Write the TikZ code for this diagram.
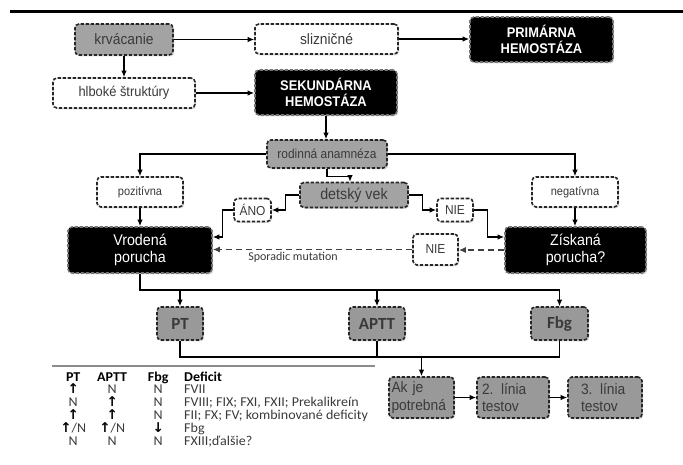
\documentclass[tikz,border=0pt]{standalone}
\usepackage{fontspec}
\setmainfont{Liberation Sans}[FakeStretch=0.92]
\newfontfamily\calfont{Carlito}
\newfontfamily\tabfont{Carlito}[FakeStretch=1.04]
\newfontfamily\arrfont{DejaVu Sans}
\usetikzlibrary{arrows.meta,shadows,calc}
\definecolor{boxgray}{HTML}{A3A3A3}
\definecolor{boxgrayb}{HTML}{999999}
\definecolor{txtgray}{HTML}{3A3A3A}
\newcommand\trow[4]{\hbox{\makebox[30pt]{#1}\makebox[48pt]{#2}\makebox[44pt]{#3}\hspace{4pt}#4}}
\newcommand\up{{\arrfont\bfseries\color{black}↑}}
\newcommand\down{{\arrfont\bfseries\color{black}↓}}
\begin{document}
\begin{tikzpicture}[x=1pt,y=-1pt,
  base/.style={rounded corners=4pt, dash pattern=on 3.4pt off 1.6pt, line width=1.6pt,
    draw=black!85, inner sep=0pt, align=center,
    drop shadow={shadow xshift=1.2pt, shadow yshift=-1.4pt, opacity=0.3}},
  graybox/.style={base, fill=boxgray, text=txtgray},
  grayboxb/.style={base, fill=boxgrayb, text=txtgray},
  whitebox/.style={base, fill=white, text=txtgray},
  blackbox/.style={base, fill=black, draw=black!55, text=white},
  conn/.style={line width=1.2pt, -{Latex[length=6.5pt,width=5.5pt]}},
  plain/.style={line width=1.2pt},
  dconn/.style={line width=1.7pt, draw=black!75, dash pattern=on 6pt off 4pt, -{Latex[length=7pt,width=6pt]}}
]
\useasboundingbox (0,0) rectangle (683,464);
\draw[line width=3pt] (10,11) -- (683,11);

% top part
\node[graybox, minimum width=98pt, minimum height=31pt, font=\fontsize{15}{17}\selectfont] (krv) at (124,39.5) {krvácanie};
\node[whitebox, minimum width=143pt, minimum height=30pt, font=\fontsize{15}{17}\selectfont] (sliz) at (326.5,39) {slizničné};
\node[blackbox, minimum width=143pt, minimum height=45pt, font=\bfseries\fontsize{14}{16}\selectfont] (prim) at (541.5,39.5) {PRIMÁRNA\\HEMOSTÁZA};
\node[whitebox, minimum width=142pt, minimum height=30pt, font=\fontsize{14}{16}\selectfont] (hlb) at (124,93) {hlboké štruktúry};
\node[blackbox, minimum width=142pt, minimum height=45pt, font=\bfseries\fontsize{14}{16}\selectfont] (sek) at (326,92.5) {SEKUNDÁRNA\\HEMOSTÁZA};

\node[graybox, minimum width=120pt, minimum height=28pt, font=\fontsize{13}{15}\selectfont] (rod) at (327,154) {rodinná anamnéza};
\node[graybox, minimum width=108pt, minimum height=25pt, font=\fontsize{15.5}{17}\selectfont] (det) at (354,195) {detský vek};
\node[whitebox, minimum width=86pt, minimum height=30pt, font=\fontsize{12}{14}\selectfont] (poz) at (140,192) {pozitívna};
\node[whitebox, minimum width=86pt, minimum height=30pt, font=\fontsize{12}{14}\selectfont] (neg) at (575,192) {negatívna};
\node[whitebox, minimum width=37pt, minimum height=23pt, font=\fontsize{13}{15}\selectfont] (ano) at (252.5,210) {ÁNO};
\node[whitebox, minimum width=36pt, minimum height=23pt, font=\fontsize{13}{15}\selectfont] (nie1) at (455,210) {NIE};
\node[blackbox, minimum width=144pt, minimum height=46pt, font=\fontsize{15.5}{17.5}\selectfont] (vro) at (140,250) {Vrodená\\porucha};
\node[blackbox, minimum width=141pt, minimum height=46pt, font=\fontsize{15.5}{17.5}\selectfont] (zis) at (575.5,250) {Získaná\\porucha?};
\node[whitebox, minimum width=45pt, minimum height=31pt, font=\fontsize{13}{15}\selectfont] (nie2) at (435.5,249.5) {NIE};
\node[font=\calfont\fontsize{12}{14}\selectfont, text=txtgray, inner sep=0pt] (spor) at (293,257.5) {Sporadic mutation};

% tests
\node[grayboxb, minimum width=46pt, minimum height=33pt, font=\calfont\bfseries\fontsize{17}{19}\selectfont] (pt) at (180,323.5) {PT};
\node[grayboxb, minimum width=56pt, minimum height=33pt, font=\calfont\bfseries\fontsize{17}{19}\selectfont] (aptt) at (377,323.5) {APTT};
\node[grayboxb, minimum width=57pt, minimum height=33pt, font=\calfont\bfseries\fontsize{17}{19}\selectfont] (fbg) at (559.5,323.5) {Fbg};
\node[grayboxb, minimum width=65pt, minimum height=41pt, text width=60pt, align=left, font=\fontsize{15}{17.5}\selectfont] (ak) at (421.5,397.5) {Ak je\\potrebná};
\node[grayboxb, minimum width=72pt, minimum height=41pt, text width=62pt, align=left, font=\fontsize{15}{17.5}\selectfont] (l2) at (513,397.5) {2. línia\\testov};
\node[grayboxb, minimum width=74pt, minimum height=41pt, text width=48pt, align=left, font=\fontsize{15}{17.5}\selectfont] (l3) at (605,397.5) {3. línia\\testov};

% connectors top
\draw[conn] (krv.east) -- (krv.east -| sliz.west);
\draw[conn] (sliz.east) -- (sliz.east -| prim.west);
\draw[conn] (krv.south) -- (hlb.north);
\draw[conn] (hlb.east) -- (hlb.east -| sek.west);
\draw[conn] (sek.south) -- (sek.south |- rod.north);
\draw[conn] (rod.west) -| (poz.north);
\draw[conn] (rod.east) -| (neg.north);
\draw[conn] (rod.south) -- ++(0,8) -| ([xshift=-4pt]det.north);
\draw[conn] (det.west) -- ++(-14,0) |- (ano.east);
\draw[conn] (ano.west) -- ++(-11,0) |- ([yshift=13pt]vro.east);
\draw[conn] (det.east) -- ++(14,0) |- (nie1.west);
\draw[conn] (nie1.east) -- ++(14,0) |- ([yshift=13pt]zis.west);
\draw[conn] (poz.south) -- (vro.north);
\draw[conn] (neg.south) -- (neg.south |- zis.north);
\draw[dconn] (zis.west) -- (zis.west -| nie2.east);
\draw[dconn] (nie2.west) -- (nie2.west -| vro.east);

% connectors bottom
\coordinate (top) at (0,290);
\coordinate (bot) at (0,357);
\draw[plain] (vro.south) -- (vro.south |- top) -- (fbg.north |- top);
\draw[conn] (pt.north |- top) -- (pt.north);
\draw[conn] (aptt.north |- top) -- (aptt.north);
\draw[conn] (fbg.north |- top) -- (fbg.north);
\draw[plain] (pt.south) -- (pt.south |- bot) -- (fbg.south |- bot) -- (fbg.south);
\draw[plain] (aptt.south) -- (aptt.south |- bot);
\draw[conn] (ak.north |- bot) -- (ak.north);
\draw[conn] (ak.east) -- (ak.east -| l2.west);
\draw[conn] (l2.east) -- (l2.east -| l3.west);

% table
\draw[line width=1.5pt, draw=black!45] (52,366) -- (375,366);
\node[anchor=base west, inner sep=0pt, text=txtgray, font=\tabfont\fontsize{13.5}{12.8}\selectfont] (table) at (58,445)
 {\vbox{\baselineskip=12.8pt\lineskiplimit=-20pt
  \trow{\color{black}\bfseries PT}{\color{black}\bfseries APTT}{\color{black}\bfseries Fbg}{\color{black}\bfseries Deficit}
  \trow{\up}{N}{N}{FVII}
  \trow{N}{\up}{N}{FVIII; FIX; FXI, FXII; Prekalikreín}
  \trow{\up}{\up}{N}{FII; FX; FV; kombinované deficity}
  \trow{\up/N}{\up/N}{\down}{Fbg}
  \trow{N}{N}{N}{FXIII;ďalšie?}}};
\end{tikzpicture}
\end{document}
